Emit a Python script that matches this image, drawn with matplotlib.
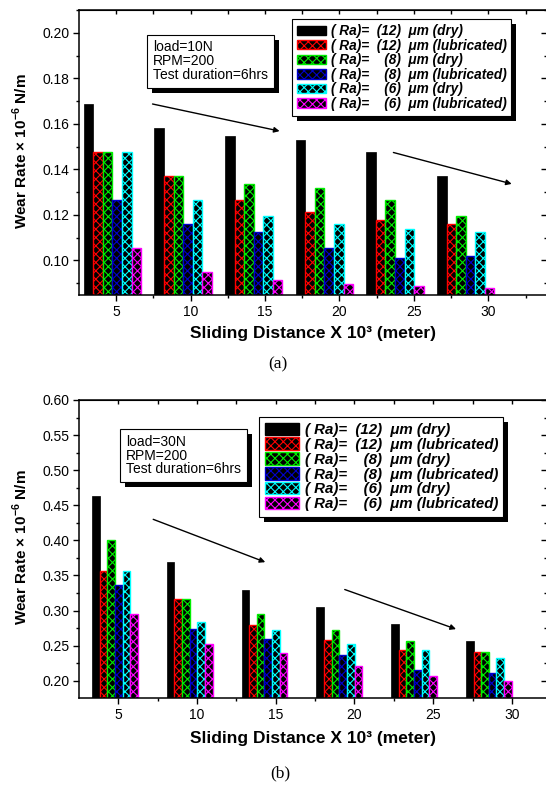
import numpy as np
import matplotlib
matplotlib.use('Agg')
import matplotlib.pyplot as plt
from matplotlib.patches import Patch, Rectangle
from matplotlib.ticker import MultipleLocator, FormatStrFormatter
from matplotlib.transforms import IdentityTransform

plt.rcParams['font.family'] = ['Liberation Sans', 'DejaVu Sans']
plt.rcParams['mathtext.fontset'] = 'custom'
plt.rcParams['mathtext.rm'] = 'Liberation Sans'
plt.rcParams['mathtext.bf'] = 'Liberation Sans:bold'
plt.rcParams['hatch.linewidth'] = 0.8

# sliding distance (x 10^3 m)
distance = [5, 10, 15, 20, 25, 30]

series_labels = ['( Ra)=  (12)  μm (dry)',
                 '( Ra)=  (12)  μm (lubricated)',
                 '( Ra)=    (8)  μm (dry)',
                 '( Ra)=    (8)  μm (lubricated)',
                 '( Ra)=    (6)  μm (dry)',
                 '( Ra)=    (6)  μm (lubricated)']
series_colors = ['black', '#ff0000', '#00ee00', '#0000cc', '#00ffff', '#ff00ff']

# (a) load = 10 N
dry12_a = [0.1685, 0.1581, 0.1545, 0.1527, 0.1474, 0.1369]
lub12_a = [0.1474, 0.1369, 0.1264, 0.1212, 0.1179, 0.1158]
dry8_a = [0.1474, 0.1369, 0.1334, 0.1316, 0.1264, 0.1193]
lub8_a = [0.1264, 0.1158, 0.1123, 0.1053, 0.1009, 0.1018]
dry6_a = [0.1474, 0.1264, 0.1193, 0.1158, 0.1136, 0.1123]
lub6_a = [0.1053, 0.0947, 0.0912, 0.0895, 0.0886, 0.0877]

# (b) load = 30 N
dry12_b = [0.463, 0.369, 0.329, 0.305, 0.281, 0.256]
lub12_b = [0.357, 0.316, 0.280, 0.258, 0.244, 0.241]
dry8_b = [0.400, 0.316, 0.295, 0.273, 0.256, 0.241]
lub8_b = [0.337, 0.274, 0.260, 0.237, 0.215, 0.211]
dry6_b = [0.357, 0.284, 0.273, 0.252, 0.244, 0.232]
lub6_b = [0.295, 0.253, 0.239, 0.221, 0.207, 0.200]


def add_shadow(ax, artist_bbox, off=5):
    # black drop shadow behind a box, in pixels
    r = Rectangle((artist_bbox.x0 + off, artist_bbox.y0 - off), artist_bbox.width, artist_bbox.height,
                  transform=IdentityTransform(), facecolor='black', edgecolor='none',
                  zorder=4, clip_on=False)
    ax.add_artist(r)


def draw_panel(ax, data, x_start, x_step, bar_w, xlim, ylim, ymaj, ymin, note, arrows,
               leg_anchor, leg_size, leg_hl, leg_hh, leg_ls, leg_htp, note_xy):
    for i, (vals, col) in enumerate(zip(data, series_colors)):
        xs = x_start + np.arange(len(vals)) * x_step + i * bar_w
        if i == 0:
            ax.bar(xs, vals, width=bar_w, align='edge', color='black', edgecolor='black', linewidth=0.5)
        else:
            ax.bar(xs, vals, width=bar_w, align='edge', facecolor='black', edgecolor=col,
                   hatch='xxxx', linewidth=1.0)
    ax.set_xlim(*xlim)
    ax.set_ylim(*ylim)
    ax.set_xticks(distance)
    ax.xaxis.set_minor_locator(MultipleLocator(2.5))
    ax.yaxis.set_major_locator(MultipleLocator(ymaj))
    ax.yaxis.set_minor_locator(MultipleLocator(ymin))
    ax.yaxis.set_major_formatter(FormatStrFormatter('%.2f'))
    ax.tick_params(which='major', direction='out', length=4, width=1, labelsize=10, pad=3)
    ax.tick_params(which='minor', direction='out', length=2, width=1)
    for s in ax.spines.values():
        s.set_linewidth(1.1)

    top = ax.secondary_xaxis('top')
    top.set_xticks(distance)
    top.xaxis.set_minor_locator(MultipleLocator(2.5))
    top.tick_params(which='both', direction='in', length=3, width=1, labeltop=False)
    right = ax.secondary_yaxis('right')
    right.yaxis.set_major_locator(MultipleLocator(ymaj))
    right.yaxis.set_minor_locator(MultipleLocator(ymin))
    right.tick_params(which='major', direction='in', length=4, width=1, labelright=False)
    right.tick_params(which='minor', direction='in', length=2, width=1)

    ax.set_xlabel('Sliding Distance X 10³ (meter)', fontsize=12.5, fontweight='bold')
    ax.xaxis.set_label_coords(0.5, -0.11)
    ax.set_ylabel(r'Wear Rate × 10$^{\mathbf{-6}}$ N/m', fontsize=11, fontweight='bold')
    ax.yaxis.set_label_coords(-0.106, 0.505)

    for (x0, y0), (x1, y1) in arrows:
        ax.annotate('', xy=(x1, y1), xytext=(x0, y0),
                    arrowprops=dict(arrowstyle='-|>', color='black', lw=1.0, mutation_scale=8,
                                    shrinkA=0, shrinkB=0))

    t = ax.text(note_xy[0], note_xy[1], note, transform=ax.transAxes, ha='left', va='top',
                fontsize=10, linespacing=0.98, zorder=6,
                bbox=dict(boxstyle='square,pad=0.42', facecolor='white', edgecolor='black', linewidth=0.8))

    handles = [Patch(facecolor='black', edgecolor=c, hatch=None if c == 'black' else 'xxxx', linewidth=1.0)
               for c in series_colors]
    leg = ax.legend(handles, series_labels, loc='upper left', bbox_to_anchor=leg_anchor,
                    bbox_transform=ax.figure.transFigure,
                    prop={'family': 'Liberation Sans', 'weight': 'bold', 'style': 'italic', 'size': leg_size},
                    handlelength=leg_hl, handleheight=leg_hh, labelspacing=leg_ls, handletextpad=leg_htp,
                    borderpad=0.35, borderaxespad=0, fancybox=False, framealpha=1, edgecolor='black')
    leg.get_frame().set_linewidth(0.8)
    leg.set_zorder(6)
    return t, leg


fig = plt.figure(figsize=(5.46, 7.86), dpi=100)
ax_a = fig.add_axes([0.1454, 0.6247, 0.8564, 0.3626])
ax_b = fig.add_axes([0.1454, 0.1120, 0.8564, 0.3791])

note_a, leg_a = draw_panel(
    ax_a, [dry12_a, lub12_a, dry8_a, lub8_a, dry6_a, lub6_a],
    x_start=2.83, x_step=4.743, bar_w=0.643, xlim=(2.54, 33.93), ylim=(0.0848, 0.21),
    ymaj=0.02, ymin=0.01, note='load=10N\nRPM=200\nTest duration=6hrs',
    arrows=[((7.45, 0.1687), (15.98, 0.1568)), ((23.62, 0.1474), (31.56, 0.1336))],
    leg_anchor=(0.5344, 0.9754), leg_size=9.8, leg_hl=2.2, leg_hh=0.66, leg_ls=0.04, leg_htp=0.32,
    note_xy=(0.158, 0.893))

note_b, leg_b = draw_panel(
    ax_b, [dry12_b, lub12_b, dry8_b, lub8_b, dry6_b, lub6_b],
    x_start=3.32, x_step=4.752, bar_w=0.485, xlim=(2.52, 32.23), ylim=(0.1755, 0.60),
    ymaj=0.05, ymin=0.025, note='load=30N\nRPM=200\nTest duration=6hrs',
    arrows=[((7.21, 0.430), (14.33, 0.369)), ((19.38, 0.330), (26.45, 0.2736))],
    leg_anchor=(0.4751, 0.4691), leg_size=10.8, leg_hl=2.27, leg_hh=0.88, leg_ls=0.04, leg_htp=0.4,
    note_xy=(0.0997, 0.883))

fig.text(0.509, 0.537, '(a)', fontsize=12.5, family='Liberation Serif', ha='center', va='center')
fig.text(0.513, 0.0165, '(b)', fontsize=12.5, family='Liberation Serif', ha='center', va='center')

fig.canvas.draw()
r = fig.canvas.get_renderer()
for ax, t, leg in [(ax_a, note_a, leg_a), (ax_b, note_b, leg_b)]:
    add_shadow(ax, t.get_bbox_patch().get_window_extent(r))
    add_shadow(ax, leg.get_frame().get_window_extent(r))

fig.savefig('out.png', dpi=100)
